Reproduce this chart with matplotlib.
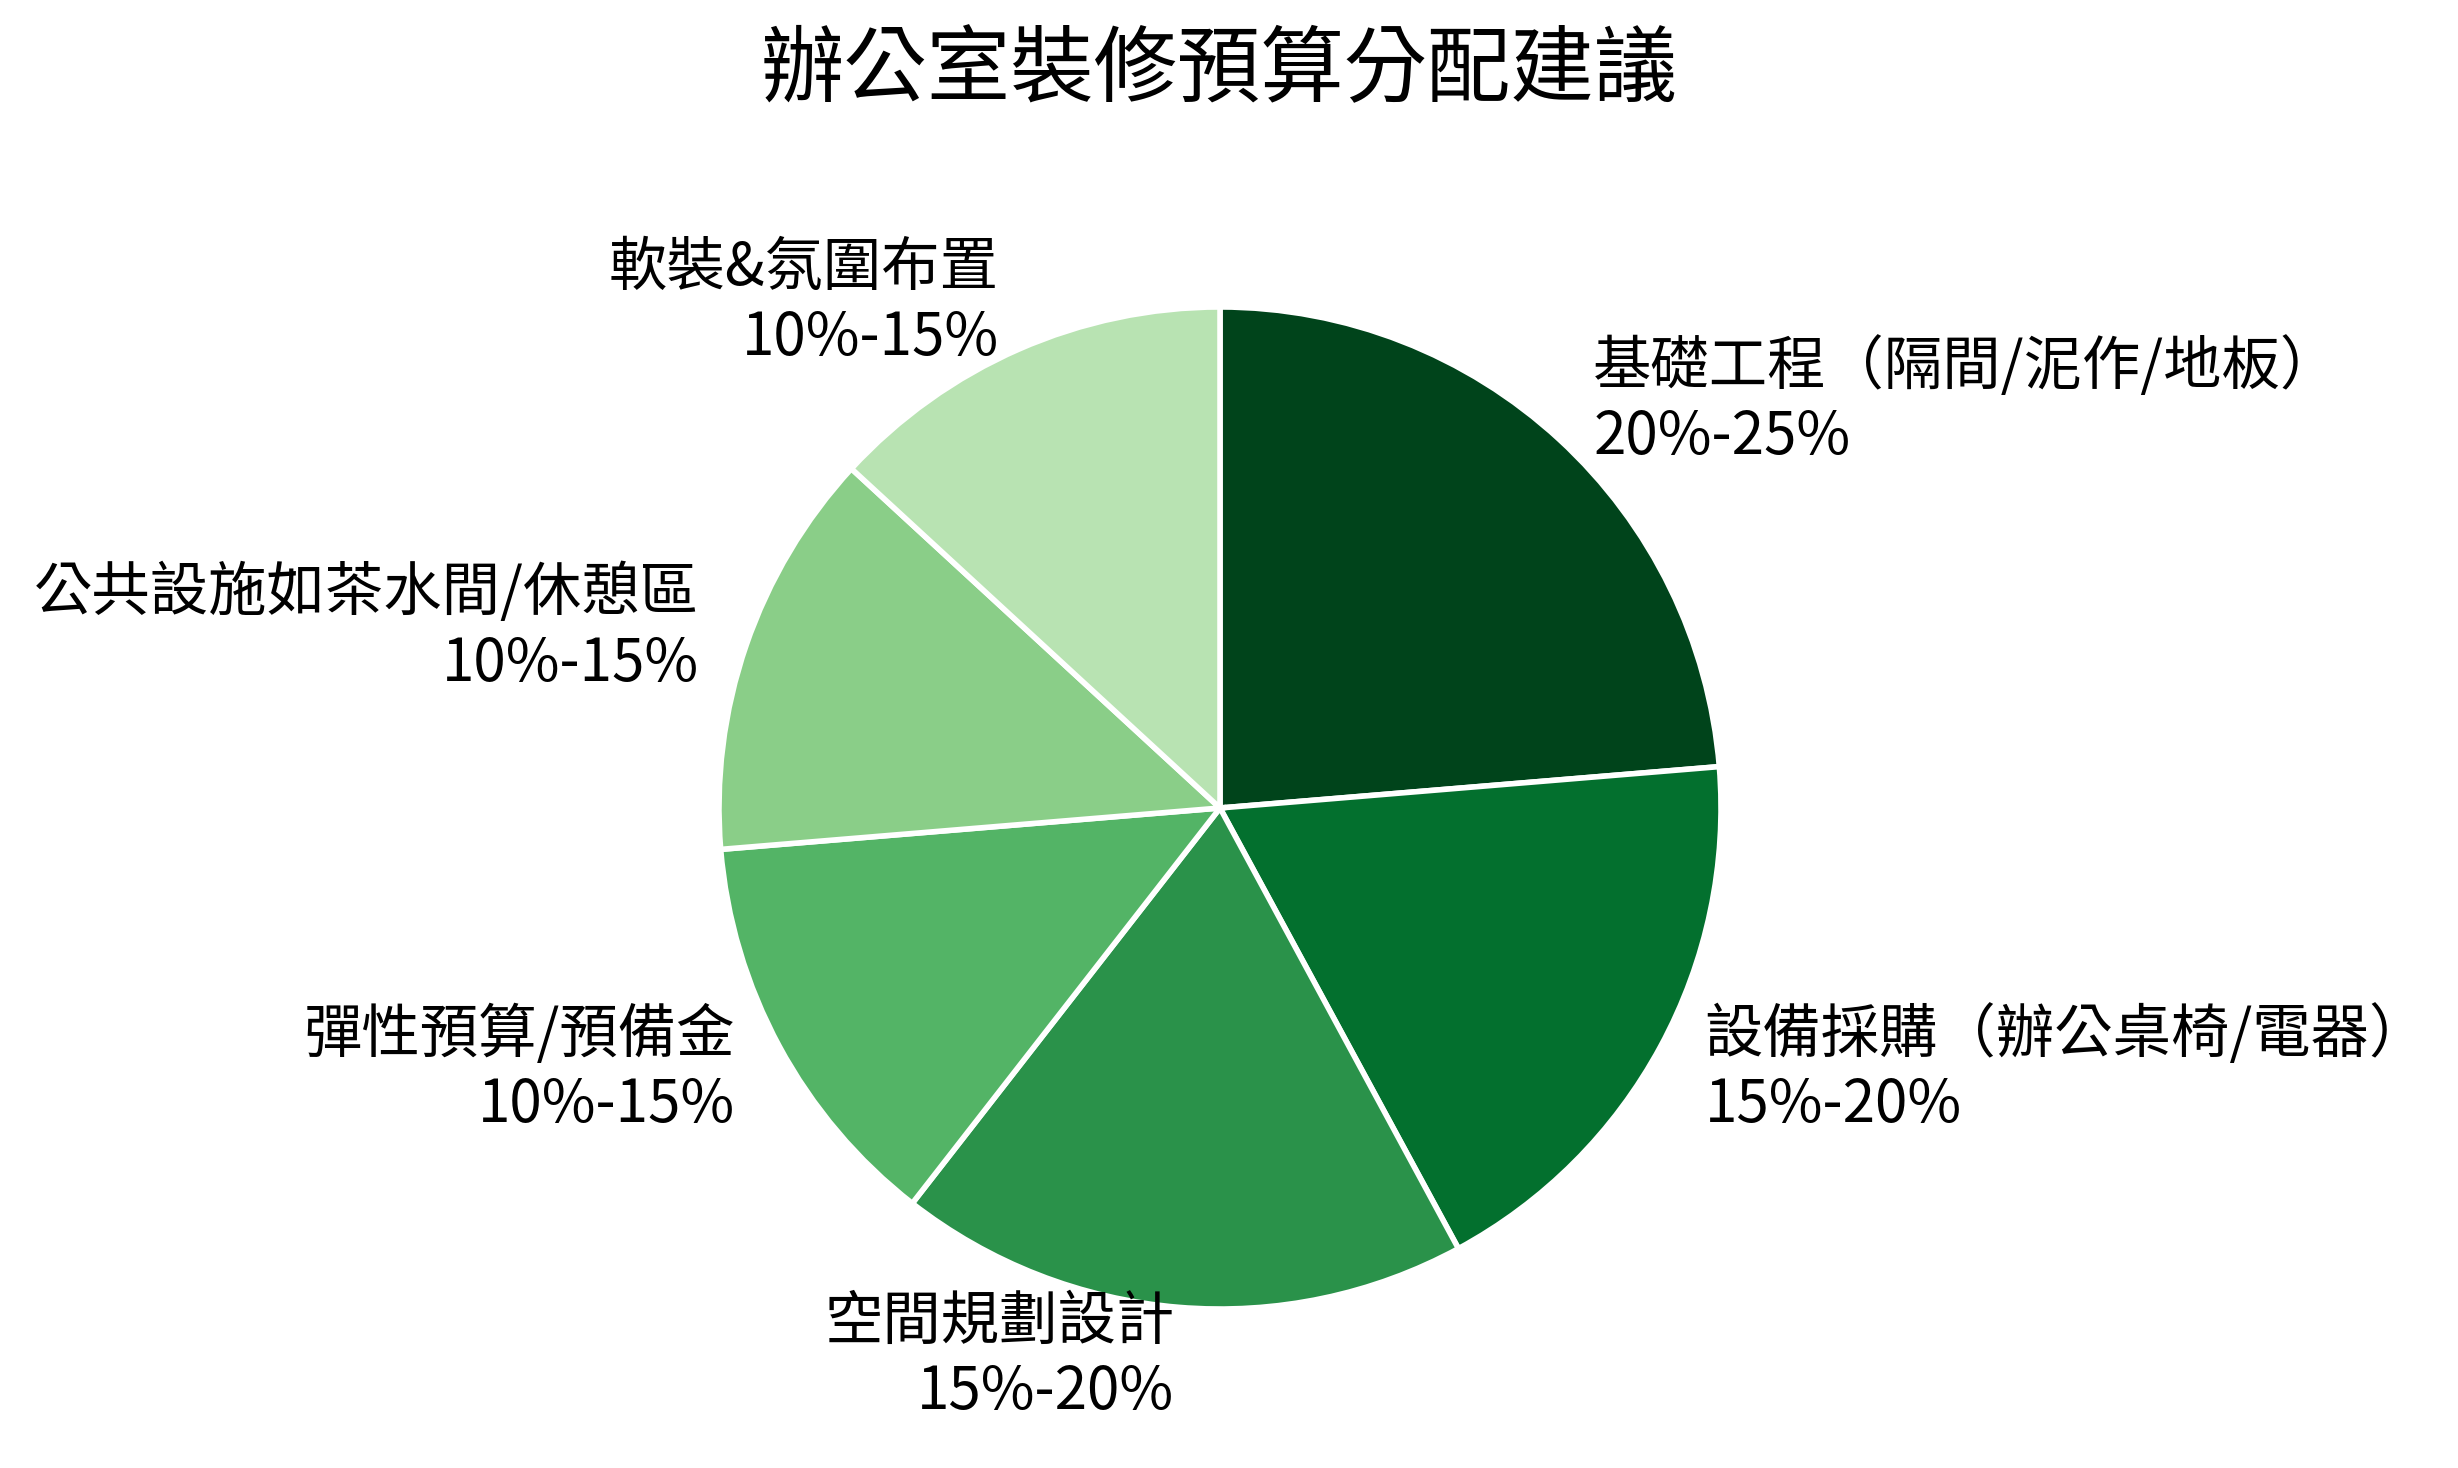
import matplotlib
matplotlib.use("Agg")
import matplotlib.pyplot as plt
import numpy as np

plt.rcParams['font.family'] = ['Noto Sans CJK TC', 'DejaVu Sans']

categories = ["基礎工程（隔間/泥作/地板）", "設備採購（辦公桌椅/電器）", "空間規劃設計",
              "彈性預算/預備金", "公共設施如茶水間/休憩區", "軟裝&氛圍布置"]
ranges = ["20%-25%", "15%-20%", "15%-20%", "10%-15%", "10%-15%", "10%-15%"]
values = [22.5, 17.5, 17.5, 12.5, 12.5, 12.5]
title = "辦公室裝修預算分配建議"

colors = plt.cm.Greens(np.linspace(0.3, 1.0, 6))[::-1]
labels = [f"{c}\n{r}" for c, r in zip(categories, ranges)]

W, H = 2458, 1468
fig = plt.figure(figsize=(W / 200, H / 200), dpi=200)
R = 501
cx, cy = 1220, H - 808
ax = fig.add_axes([(cx - R) / W, (cy - R) / H, 2 * R / W, 2 * R / H])
ax.pie(values, labels=labels, colors=colors, startangle=90, counterclock=False,
       labeldistance=1.1, radius=1,
       wedgeprops=dict(edgecolor='white', linewidth=2),
       textprops=dict(fontsize=21, color='black'))
ax.set_xlim(-1, 1)
ax.set_ylim(-1, 1)
ax.set_aspect('equal')
ax.axis('off')

fig.text(0.496, 1 - 71 / H, title, ha='center', va='center', fontsize=30)
fig.savefig("out.png", dpi=200, facecolor='white')
